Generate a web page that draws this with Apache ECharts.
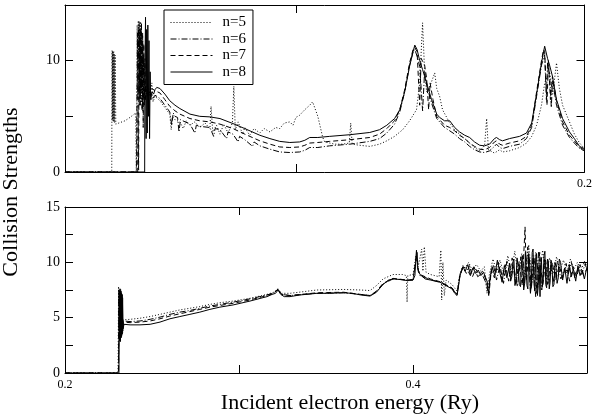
<!DOCTYPE html>
<html>
<head>
<meta charset="utf-8">
<script src="https://cdn.jsdelivr.net/npm/echarts@6/dist/echarts.min.js"></script>
<style>html,body{margin:0;padding:0;background:#fff;}#c{width:595px;height:420px;}</style>
</head>
<body>
<div id="c"></div>
<script>
const seriesNames = ['n=5', 'n=6', 'n=7', 'n=8'];
const topXTicks = [0.1, 0.2];
const topXLabels = [0.2];
const topYTicks = [5, 10];
const topYLabels = [0, 10];
const botXTicks = [0.3, 0.4];
const botXLabels = [0.2, 0.4];
const botYTicks = [2.5, 5, 7.5, 10, 12.5];
const botYLabels = [0, 5, 10, 15];

// ---- upper panel ----
const top_n5 = [[0.0200,0],[0.0362,0],[0.0363,10.9],[0.0364,4.6],[0.0365,10.9],[0.0366,4.7],[0.0367,10.8],[0.0368,4.5],[0.0369,10.8],[0.0370,4.6],[0.0371,10.6],[0.0372,4.4],[0.0374,10.5],[0.0376,4.3],[0.0380,4.2],[0.0408,4.6],[0.0425,4.9],[0.0445,5.3],[0.0447,0],[0.0449,5.2],[0.0450,13.2],[0.0452,6.5],[0.0454,13.6],[0.0456,6.0],[0.0458,12.9],[0.0460,7.0],[0.0462,13.5],[0.0464,6.2],[0.0466,12.4],[0.0468,5.8],[0.0470,11.8],[0.0472,6.5],[0.0474,10.0],[0.0480,6.9],[0.0490,7.5],[0.0494,6.8],[0.0501,8.0],[0.0505,6.3],[0.0512,6.8],[0.0529,6.4],[0.0546,5.8],[0.0563,5.2],[0.0568,3.8],[0.0572,5.0],[0.0581,4.7],[0.0598,4.5],[0.0610,3.9],[0.0620,4.6],[0.0633,4.2],[0.0650,4.5],[0.0667,4.0],[0.0685,4.4],[0.0702,3.9],[0.0706,5.9],[0.0712,3.6],[0.0725,4.2],[0.0737,3.4],[0.0750,4.3],[0.0765,3.5],[0.0780,4.4],[0.0785,7.7],[0.0790,3.8],[0.0800,4.5],[0.0815,3.4],[0.0823,4.0],[0.0840,3.3],[0.0855,3.9],[0.0875,3.5],[0.0890,3.9],[0.0910,3.6],[0.0930,4.0],[0.0944,3.9],[0.0960,4.4],[0.0979,4.5],[0.0990,4.2],[0.1000,4.9],[0.1013,5.1],[0.1031,5.6],[0.1048,6.0],[0.1058,6.3],[0.1076,5.0],[0.1093,3.1],[0.1100,2.7],[0.1117,2.6],[0.1135,2.5],[0.1160,2.5],[0.1185,2.6],[0.1190,4.4],[0.1195,2.5],[0.1221,2.4],[0.1256,2.3],[0.1290,2.5],[0.1315,2.8],[0.1342,3.2],[0.1370,3.8],[0.1394,4.6],[0.1418,5.6],[0.1429,8.0],[0.1439,13.4],[0.1446,9.0],[0.1453,7.2],[0.1463,7.6],[0.1481,8.9],[0.1488,7.5],[0.1498,6.8],[0.1508,5.6],[0.1533,4.4],[0.1550,3.8],[0.1567,3.4],[0.1585,3.0],[0.1602,2.6],[0.1619,2.2],[0.1637,1.9],[0.1654,2.4],[0.1661,4.8],[0.1667,2.0],[0.1688,1.7],[0.1706,2.0],[0.1716,1.8],[0.1740,1.9],[0.1775,2.2],[0.1799,2.6],[0.1817,3.2],[0.1834,4.2],[0.1851,6.0],[0.1862,8.0],[0.1879,9.0],[0.1890,7.0],[0.1903,9.8],[0.1913,7.5],[0.1924,6.0],[0.1948,4.5],[0.1965,3.4],[0.1983,2.6],[0.2000,2.1]];

const top_n6 = [[0.0200,0],[0.0448,0],[0.0449,5.5],[0.0451,12.5],[0.0453,6.5],[0.0455,13.0],[0.0457,7.0],[0.0459,12.2],[0.0461,6.0],[0.0463,12.8],[0.0465,7.5],[0.0467,11.5],[0.0469,5.5],[0.0471,10.5],[0.0474,6.8],[0.0480,7.8],[0.0487,6.8],[0.0494,7.2],[0.0501,6.5],[0.0512,6.9],[0.0518,6.8],[0.0529,6.6],[0.0546,6.0],[0.0563,5.4],[0.0570,4.2],[0.0575,5.3],[0.0581,5.0],[0.0590,4.9],[0.0595,3.6],[0.0600,4.7],[0.0633,4.3],[0.0650,3.5],[0.0655,4.2],[0.0667,4.1],[0.0702,4.0],[0.0715,3.2],[0.0720,3.9],[0.0737,3.8],[0.0760,3.0],[0.0765,3.6],[0.0782,3.4],[0.0800,2.7],[0.0805,3.2],[0.0823,2.9],[0.0850,2.3],[0.0855,2.7],[0.0875,2.35],[0.0910,2.05],[0.0944,1.8],[0.0979,1.75],[0.1013,1.8],[0.1031,1.95],[0.1048,2.2],[0.1076,2.2],[0.1117,2.35],[0.1187,2.5],[0.1256,2.75],[0.1290,3.0],[0.1315,3.5],[0.1342,4.3],[0.1360,5.4],[0.1377,7.2],[0.1394,9.6],[0.1406,10.8],[0.1412,11.0],[0.1420,10.4],[0.1429,9.5],[0.1439,5.5],[0.1446,9.0],[0.1453,7.8],[0.1470,6.2],[0.1488,4.8],[0.1498,4.5],[0.1515,4.0],[0.1533,3.7],[0.1550,3.4],[0.1567,3.0],[0.1585,2.7],[0.1602,2.3],[0.1619,2.0],[0.1637,1.8],[0.1654,1.75],[0.1671,1.9],[0.1688,2.3],[0.1695,2.5],[0.1706,2.2],[0.1716,2.1],[0.1740,2.3],[0.1775,2.5],[0.1799,3.0],[0.1817,4.0],[0.1834,6.8],[0.1851,9.6],[0.1862,10.5],[0.1868,6.5],[0.1872,9.8],[0.1879,8.8],[0.1885,5.8],[0.1889,8.2],[0.1903,6.0],[0.1924,4.2],[0.1948,3.1],[0.1965,2.6],[0.1983,2.1],[0.2000,1.9]];

const top_n7 = [[0.0200,0],[0.0452,0],[0.0453,6],[0.0455,0.2],[0.0457,13.5],[0.0459,6],[0.0461,12.8],[0.0463,7],[0.0465,13.4],[0.0467,5.5],[0.0469,12.5],[0.0471,4],[0.0473,11.5],[0.0475,6],[0.0477,10.2],[0.0479,6.5],[0.0487,7.0],[0.0501,7.5],[0.0512,7.3],[0.0518,7.2],[0.0529,7.1],[0.0546,6.5],[0.0563,5.9],[0.0581,5.5],[0.0598,5.2],[0.0633,4.8],[0.0667,4.6],[0.0702,4.5],[0.0737,4.3],[0.0782,3.9],[0.0823,3.4],[0.0875,2.8],[0.0910,2.5],[0.0944,2.25],[0.0979,2.2],[0.1013,2.25],[0.1031,2.4],[0.1048,2.6],[0.1076,2.65],[0.1117,2.75],[0.1187,2.9],[0.1256,3.1],[0.1290,3.4],[0.1315,3.9],[0.1342,4.6],[0.1360,5.6],[0.1377,7.4],[0.1394,9.8],[0.1406,11.0],[0.1412,11.2],[0.1420,10.8],[0.1429,6.0],[0.1434,10.2],[0.1446,9.6],[0.1453,8.4],[0.1460,5.6],[0.1465,8.0],[0.1475,6.5],[0.1488,5.0],[0.1498,4.7],[0.1515,4.2],[0.1533,4.0],[0.1550,3.7],[0.1567,3.3],[0.1585,3.0],[0.1602,2.6],[0.1619,2.3],[0.1637,2.05],[0.1654,2.0],[0.1671,2.2],[0.1688,2.7],[0.1695,2.8],[0.1706,2.5],[0.1716,2.4],[0.1740,2.6],[0.1775,2.8],[0.1799,3.2],[0.1817,4.2],[0.1834,7.2],[0.1851,10.0],[0.1858,11.0],[0.1862,10.8],[0.1870,6.0],[0.1875,10.0],[0.1882,6.5],[0.1889,8.6],[0.1903,6.4],[0.1924,4.5],[0.1948,3.3],[0.1965,2.8],[0.1983,2.2],[0.2000,2.0]];

const top_n8 = [[0.0200,0],[0.0476,0],[0.0477,9.5],[0.0479,13.9],[0.0481,3.0],[0.0483,12.8],[0.0485,3.5],[0.0487,13.2],[0.0489,5.0],[0.0491,11.8],[0.0493,3.0],[0.0495,9.0],[0.0497,6.5],[0.0501,7.2],[0.0507,7.0],[0.0512,7.4],[0.0518,7.6],[0.0529,7.5],[0.0546,7.0],[0.0563,6.4],[0.0581,6.0],[0.0598,5.7],[0.0633,5.2],[0.0667,5.0],[0.0702,4.95],[0.0737,4.8],[0.0782,4.35],[0.0823,3.9],[0.0875,3.3],[0.0910,3.0],[0.0944,2.75],[0.0979,2.65],[0.1013,2.7],[0.1031,2.85],[0.1048,3.1],[0.1076,3.1],[0.1117,3.2],[0.1187,3.35],[0.1256,3.55],[0.1290,3.8],[0.1315,4.2],[0.1342,4.8],[0.1360,5.6],[0.1377,7.2],[0.1394,9.5],[0.1406,10.8],[0.1412,11.4],[0.1420,11.0],[0.1429,10.0],[0.1439,9.2],[0.1453,8.0],[0.1470,6.5],[0.1488,5.2],[0.1498,4.9],[0.1515,4.6],[0.1533,4.6],[0.1550,4.0],[0.1567,3.6],[0.1585,3.3],[0.1602,3.1],[0.1619,2.7],[0.1637,2.4],[0.1654,2.35],[0.1671,2.5],[0.1688,3.0],[0.1695,3.1],[0.1706,2.9],[0.1716,2.8],[0.1740,3.0],[0.1775,3.2],[0.1799,3.5],[0.1817,4.4],[0.1834,7.0],[0.1851,9.8],[0.1862,11.3],[0.1872,10.2],[0.1879,9.6],[0.1889,8.6],[0.1903,6.5],[0.1924,4.8],[0.1948,3.6],[0.1965,3.0],[0.1983,2.3],[0.2000,2.1]];

// ---- lower panel ----
const bot_n5 = [[0.2,0],[0.2305,0],[0.2308,7.8],[0.2311,3.0],[0.2314,7.5],[0.2317,2.8],[0.2320,7.6],[0.2323,3.2],[0.2326,7.2],[0.2329,3.5],[0.2334,4.8],[0.2374,4.85],[0.2431,4.95],[0.2489,5.1],[0.2546,5.3],[0.2603,5.5],[0.2660,5.7],[0.2718,5.85],[0.2775,6.0],[0.2833,6.2],[0.2890,6.35],[0.2966,6.5],[0.3063,6.75],[0.3161,7.1],[0.3200,7.3],[0.3224,7.6],[0.3245,7.2],[0.3293,7.2],[0.3448,7.5],[0.3600,7.55],[0.3700,7.5],[0.3753,7.45],[0.3790,7.9],[0.3828,8.5],[0.3885,8.9],[0.3940,8.9],[0.3962,8.8],[0.3966,6.4],[0.3970,8.8],[0.4000,8.9],[0.4017,10.6],[0.4030,9.6],[0.4050,11.2],[0.4057,9.2],[0.4065,11.4],[0.4075,9.1],[0.4100,8.9],[0.4150,8.7],[0.4160,11.1],[0.4165,6.6],[0.4172,10.0],[0.4180,7.0],[0.4190,8.4],[0.4224,8.0],[0.4253,7.4],[0.4270,9.0],[0.4287,9.7],[0.4300,9.5],[0.4320,10.0],[0.4340,9.3],[0.4365,9.8],[0.4390,9.2],[0.4410,9.6],[0.4425,7.2],[0.4440,9.0],[0.4460,10.3],[0.4480,9.1],[0.4500,10.2],[0.4525,8.8],[0.4545,10.6],[0.4565,9.0],[0.4585,11.0],[0.4605,8.7],[0.4625,10.8],[0.4645,8.6],[0.4665,11.6],[0.4685,8.2],[0.4705,10.9],[0.4725,8.4],[0.4745,11.1],[0.4765,8.9],[0.4785,10.4],[0.4805,9.0],[0.4825,10.5],[0.4845,9.3],[0.4865,10.2],[0.4885,9.1],[0.4905,10.3],[0.4925,9.4],[0.4945,10.0],[0.4965,9.2],[0.4985,10.1],[0.5000,9.7]];

const bot_n6 = [[0.2,0],[0.2307,0],[0.2310,7.5],[0.2313,3.0],[0.2316,7.7],[0.2319,2.8],[0.2322,7.4],[0.2325,3.3],[0.2328,7.1],[0.2331,3.6],[0.2336,4.7],[0.2374,4.65],[0.2431,4.7],[0.2489,4.85],[0.2546,5.05],[0.2603,5.3],[0.2660,5.5],[0.2718,5.65],[0.2775,5.85],[0.2833,6.05],[0.2890,6.2],[0.2966,6.4],[0.3063,6.7],[0.3161,7.05],[0.3200,7.25],[0.3224,7.55],[0.3245,7.1],[0.3293,7.0],[0.3448,7.2],[0.3600,7.25],[0.3700,7.1],[0.3753,7.0],[0.3790,7.35],[0.3828,8.05],[0.3885,8.5],[0.3966,8.4],[0.4000,8.4],[0.4017,10.2],[0.4023,10.8],[0.4030,9.2],[0.4040,8.8],[0.4100,8.45],[0.4155,8.2],[0.4224,7.65],[0.4253,7.05],[0.4270,8.8],[0.4287,9.6],[0.4310,9.4],[0.4330,8.8],[0.4350,9.6],[0.4372,8.7],[0.4395,9.0],[0.4415,8.3],[0.4432,7.4],[0.4445,8.8],[0.4462,9.8],[0.4480,8.4],[0.4500,9.7],[0.4520,8.1],[0.4540,10.1],[0.4560,8.6],[0.4580,9.5],[0.4600,7.8],[0.4620,10.5],[0.4640,8.0],[0.4660,11.4],[0.4675,7.3],[0.4690,10.6],[0.4705,6.9],[0.4722,11.0],[0.4740,7.5],[0.4755,10.3],[0.4772,8.0],[0.4790,9.7],[0.4810,8.2],[0.4830,10.1],[0.4850,8.5],[0.4870,9.4],[0.4890,8.8],[0.4910,10.0],[0.4930,8.6],[0.4950,9.5],[0.4970,8.9],[0.4990,9.9],[0.5000,9.2]];

const bot_n7 = [[0.2,0],[0.2308,0],[0.2311,7.4],[0.2314,2.9],[0.2317,7.6],[0.2320,3.1],[0.2323,7.3],[0.2326,3.4],[0.2329,7.0],[0.2332,3.8],[0.2336,4.6],[0.2374,4.55],[0.2431,4.6],[0.2489,4.7],[0.2546,4.9],[0.2603,5.15],[0.2660,5.35],[0.2718,5.55],[0.2775,5.75],[0.2833,5.95],[0.2890,6.1],[0.2966,6.3],[0.3063,6.6],[0.3161,7.0],[0.3200,7.2],[0.3224,7.6],[0.3245,7.1],[0.3293,7.0],[0.3448,7.25],[0.3600,7.3],[0.3700,7.1],[0.3753,7.0],[0.3790,7.4],[0.3828,8.1],[0.3885,8.55],[0.3966,8.4],[0.4000,8.45],[0.4017,10.3],[0.4023,10.9],[0.4030,9.3],[0.4040,8.9],[0.4100,8.5],[0.4155,8.25],[0.4224,7.7],[0.4253,7.1],[0.4270,8.9],[0.4287,9.5],[0.4307,9.0],[0.4325,9.7],[0.4342,8.7],[0.4360,9.4],[0.4380,8.9],[0.4400,9.2],[0.4420,8.4],[0.4437,7.2],[0.4450,9.3],[0.4468,8.6],[0.4490,10.0],[0.4510,8.5],[0.4530,9.8],[0.4550,8.3],[0.4570,10.4],[0.4590,8.0],[0.4610,10.1],[0.4628,7.9],[0.4644,13.2],[0.4652,8.3],[0.4665,10.8],[0.4680,7.6],[0.4695,10.5],[0.4712,7.2],[0.4728,10.9],[0.4745,7.8],[0.4762,10.2],[0.4780,8.1],[0.4800,10.0],[0.4820,8.4],[0.4840,9.7],[0.4860,8.6],[0.4880,9.9],[0.4900,8.3],[0.4920,9.6],[0.4940,8.7],[0.4960,9.8],[0.4980,8.9],[0.5000,9.4]];

const bot_n8 = [[0.2,0],[0.2310,0],[0.2313,7.0],[0.2316,3.0],[0.2319,7.4],[0.2322,3.2],[0.2325,7.2],[0.2328,3.5],[0.2331,6.8],[0.2334,4.0],[0.2339,4.4],[0.2374,4.35],[0.2431,4.35],[0.2489,4.4],[0.2546,4.6],[0.2603,4.9],[0.2660,5.1],[0.2718,5.3],[0.2775,5.5],[0.2833,5.75],[0.2890,5.95],[0.2966,6.15],[0.3063,6.5],[0.3161,6.9],[0.3190,7.1],[0.3210,7.2],[0.3224,7.5],[0.3240,7.1],[0.3260,6.9],[0.3293,6.9],[0.3350,7.05],[0.3448,7.2],[0.3520,7.2],[0.3600,7.25],[0.3650,7.2],[0.3700,7.05],[0.3753,6.95],[0.3790,7.3],[0.3828,8.0],[0.3860,8.4],[0.3885,8.5],[0.3925,8.45],[0.3966,8.35],[0.4000,8.4],[0.4011,8.8],[0.4017,10.5],[0.4020,11.1],[0.4026,9.5],[0.4040,8.9],[0.4070,8.5],[0.4100,8.4],[0.4155,8.2],[0.4190,7.9],[0.4224,7.6],[0.4240,7.2],[0.4253,7.0],[0.4262,7.9],[0.4270,8.8],[0.4287,9.6],[0.4300,9.2],[0.4315,9.8],[0.4330,8.9],[0.4345,9.5],[0.4360,9.0],[0.4375,9.3],[0.4390,8.8],[0.4405,9.1],[0.4418,8.6],[0.4428,8.2],[0.4435,7.0],[0.4442,8.5],[0.4455,9.6],[0.4470,8.8],[0.4485,10.2],[0.4500,9.0],[0.4512,8.2],[0.4525,9.7],[0.4540,8.6],[0.4555,9.9],[0.4561,8.3],[0.4568,8.7],[0.4574,10.0],[0.4580,10.3],[0.4586,7.9],[0.4592,8.4],[0.4598,10.4],[0.4605,9.5],[0.4611,8.0],[0.4618,7.8],[0.4624,10.1],[0.4630,10.6],[0.4636,7.5],[0.4642,8.1],[0.4646,10.9],[0.4650,11.0],[0.4655,7.9],[0.4660,7.6],[0.4665,10.6],[0.4670,10.2],[0.4675,7.2],[0.4680,8.0],[0.4685,10.9],[0.4690,11.2],[0.4695,8.1],[0.4700,7.4],[0.4705,10.3],[0.4710,10.8],[0.4715,7.0],[0.4720,7.9],[0.4725,9.8],[0.4730,6.9],[0.4734,9.6],[0.4738,10.4],[0.4743,7.8],[0.4748,8.3],[0.4753,10.6],[0.4758,11.0],[0.4763,8.0],[0.4768,7.7],[0.4773,10.3],[0.4778,10.1],[0.4783,7.6],[0.4788,8.2],[0.4793,10.2],[0.4798,9.9],[0.4804,7.8],[0.4810,8.0],[0.4816,10.0],[0.4822,9.6],[0.4828,8.1],[0.4835,8.6],[0.4841,10.3],[0.4848,10.0],[0.4860,8.4],[0.4872,9.5],[0.4885,8.1],[0.4898,9.8],[0.4910,8.7],[0.4922,9.4],[0.4935,8.3],[0.4948,9.7],[0.4960,8.8],[0.4972,9.3],[0.4985,8.5],[0.5000,9.6]];

const FONT = 'Liberation Serif';
const dashTypes = [[1, 2], [6, 2, 1, 2], [5, 3], 'solid'];

function xAx(grid, pos, min, max, ticks, labels, showLabels) {
  return {
    type: 'value', gridIndex: grid, position: pos, min: min, max: max,
    axisLine: { show: true, onZero: false, lineStyle: { color: '#000', width: 1 } },
    axisTick: { show: true, inside: true, length: 8, customValues: ticks, lineStyle: { color: '#000' } },
    axisLabel: { show: showLabels, customValues: labels, formatter: v => v.toFixed(1),
      fontFamily: FONT, fontSize: 12, color: '#000', margin: 6 },
    splitLine: { show: false }
  };
}
function yAx(grid, pos, ticks, labels, showLabels) {
  return {
    type: 'value', gridIndex: grid, position: pos, min: 0, max: 15,
    axisLine: { show: true, onZero: false, lineStyle: { color: '#000', width: 1 } },
    axisTick: { show: true, inside: true, length: 8, customValues: ticks, lineStyle: { color: '#000' } },
    axisLabel: { show: showLabels, customValues: labels, formatter: v => String(v),
      fontFamily: FONT, fontSize: 14, color: '#000', margin: 5 },
    splitLine: { show: false }
  };
}

const topData = [top_n5, top_n6, top_n7, top_n8];
const botData = [bot_n5, bot_n6, bot_n7, bot_n8];
const series = [];
seriesNames.forEach((nm, i) => {
  series.push({ name: nm, type: 'line', xAxisIndex: 0, yAxisIndex: 0, data: topData[i],
    symbol: 'none', showSymbol: false, clip: true,
    itemStyle: { color: '#000' },
    lineStyle: { color: '#000', width: 1, type: dashTypes[i] } });
});
seriesNames.forEach((nm, i) => {
  series.push({ name: nm, type: 'line', xAxisIndex: 2, yAxisIndex: 2, data: botData[i],
    symbol: 'none', showSymbol: false, clip: true,
    itemStyle: { color: '#000' },
    lineStyle: { color: '#000', width: 1, type: dashTypes[i] } });
});

const chart = echarts.init(document.getElementById('c'), null, { renderer: 'canvas' });
chart.setOption({
  animation: false,
  backgroundColor: '#fff',
  grid: [
    { left: 65, top: 5, width: 520, height: 167 },
    { left: 65, top: 207, width: 522, height: 166 }
  ],
  xAxis: [
    xAx(0, 'bottom', 0.02, 0.2, topXTicks, topXLabels, true),
    xAx(0, 'top', 0.02, 0.2, topXTicks, topXLabels, false),
    xAx(1, 'bottom', 0.2, 0.5, botXTicks, botXLabels, true),
    xAx(1, 'top', 0.2, 0.5, botXTicks, botXLabels, false)
  ],
  yAxis: [
    yAx(0, 'left', topYTicks, topYLabels, true),
    yAx(0, 'right', topYTicks, topYLabels, false),
    yAx(1, 'left', botYTicks, botYLabels, true),
    yAx(1, 'right', botYTicks, botYLabels, false)
  ],
  legend: {
    data: seriesNames, orient: 'vertical', left: 164, top: 10,
    itemWidth: 42, itemHeight: 14, itemGap: 1.5, padding: [5, 7, 5, 6],
    backgroundColor: '#fff', borderColor: '#000', borderWidth: 1, borderRadius: 0,
    itemStyle: { opacity: 0, borderWidth: 0 },
    lineStyle: { opacity: 1, color: '#000', width: 1 },
    textStyle: { fontFamily: FONT, fontSize: 15, color: '#000', padding: [0, 0, 0, 5] },
    selectedMode: false
  },
  graphic: [
    { type: 'text', x: 11, y: 192, rotation: Math.PI / 2, originX: 0, originY: 0,
      style: { text: 'Collision Strengths', font: '22px "Liberation Serif"', fill: '#000',
        textAlign: 'center', textVerticalAlign: 'middle' } },
    { type: 'text', x: 350, y: 403,
      style: { text: 'Incident electron energy (Ry)', font: '22px "Liberation Serif"', fill: '#000',
        textAlign: 'center', textVerticalAlign: 'middle' } }
  ],
  series: series
});
</script>
</body>
</html>
